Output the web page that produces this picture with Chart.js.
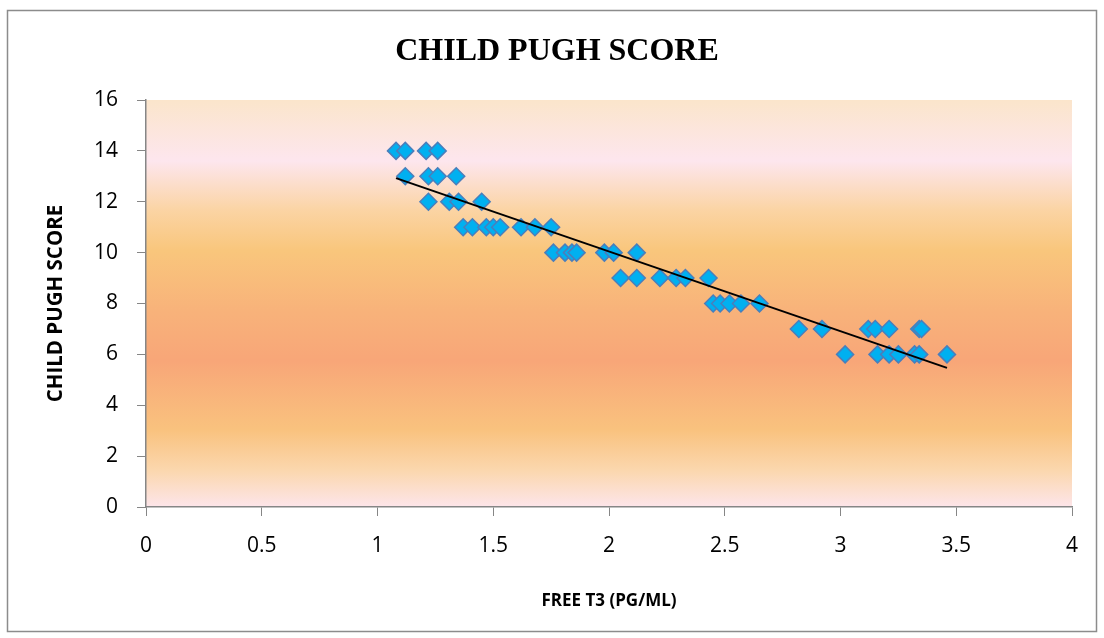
<!DOCTYPE html>
<html>
<head>
<meta charset="utf-8">
<title>Child Pugh score vs free T3</title>
<script src="https://cdn.jsdelivr.net/npm/chart.js@4/dist/chart.umd.min.js"></script>
<style>
  html, body { margin: 0; padding: 0; background: #fff; }
  #wrap { width: 1104px; height: 638px; }
</style>
</head>
<body>
<div id="wrap"><canvas id="myChart" width="1104" height="638"></canvas></div>
<script>
// free T3 readings (pg/ml) and the matching Child Pugh score, one pair per patient
const freeT3 = [
  1.08, 1.12, 1.21, 1.26,
  1.12, 1.22, 1.26, 1.34,
  1.22, 1.31, 1.35, 1.45,
  1.37, 1.41, 1.47, 1.50, 1.53, 1.62, 1.68, 1.75,
  1.76, 1.81, 1.84, 1.86, 1.98, 2.02, 2.12,
  2.05, 2.12, 2.22, 2.29, 2.33, 2.43,
  2.45, 2.48, 2.52, 2.57, 2.65,
  2.82, 2.92, 3.12, 3.15, 3.21, 3.34, 3.35,
  3.02, 3.16, 3.21, 3.25, 3.32, 3.34, 3.46
];
const childPugh = [
  14, 14, 14, 14,
  13, 13, 13, 13,
  12, 12, 12, 12,
  11, 11, 11, 11, 11, 11, 11, 11,
  10, 10, 10, 10, 10, 10, 10,
  9, 9, 9, 9, 9, 9,
  8, 8, 8, 8, 8,
  7, 7, 7, 7, 7, 7, 7,
  6, 6, 6, 6, 6, 6, 6
];

const xTicks = [0, 0.5, 1, 1.5, 2, 2.5, 3, 3.5, 4];
const yTicks = [0, 2, 4, 6, 8, 10, 12, 14, 16];

const chartTitle = "CHILD PUGH SCORE";

// least squares fit for the linear trendline
function linearFit(xs, ys) {
  let n = xs.length, sx = 0, sy = 0, sxy = 0, sxx = 0;
  for (let i = 0; i < n; i++) {
    sx += xs[i]; sy += ys[i];
    sxy += xs[i] * ys[i]; sxx += xs[i] * xs[i];
  }
  const slope = (n * sxy - sx * sy) / (n * sxx - sx * sx);
  const intercept = (sy - slope * sx) / n;
  return { slope, intercept };
}

const fit = linearFit(freeT3, childPugh);
const xMin = Math.min(...freeT3);
const xMax = Math.max(...freeT3);
const trend = [
  { x: xMin, y: fit.intercept + fit.slope * xMin },
  { x: xMax, y: fit.intercept + fit.slope * xMax }
];

const points = freeT3.map((x, i) => ({ x: x, y: childPugh[i] }));

// white page, thin grey frame, banded plot background and the heading
const backdrop = {
  id: "backdrop",
  beforeDraw(chart) {
    const c = chart.ctx;
    const a = chart.chartArea;
    c.save();
    c.fillStyle = "#ffffff";
    c.fillRect(0, 0, chart.width, chart.height);
    c.strokeStyle = "#8c8c8c";
    c.lineWidth = 1.5;
    c.strokeRect(7.5, 10.5, 1089, 621);

    const g = c.createLinearGradient(0, a.top, 0, a.bottom);
    g.addColorStop(0.00, "#fbe5cb");
    g.addColorStop(0.15, "#fde6ee");
    g.addColorStop(0.27, "#fbd4a4");
    g.addColorStop(0.37, "#f9c67c");
    g.addColorStop(0.52, "#f8b27a");
    g.addColorStop(0.64, "#f8a678");
    g.addColorStop(0.81, "#f9c27e");
    g.addColorStop(0.91, "#fbd7ae");
    g.addColorStop(1.00, "#fde5ea");
    c.fillStyle = g;
    c.fillRect(a.left, a.top, a.right - a.left, a.bottom - a.top);

    c.fillStyle = "#000000";
    c.font = "bold 32px 'Liberation Serif', 'Times New Roman', serif";
    c.textAlign = "center";
    c.textBaseline = "alphabetic";
    c.fillText(chartTitle, 557, 60);
    c.restore();
  }
};

const axisGrey = "#868686";
const tickFont = { family: "'Open Sans', sans-serif", size: 21 };

let ctx = document.getElementById("myChart").getContext("2d");
let chart = new Chart(ctx, {
  type: "scatter",
  data: {
    datasets: [
      {
        type: "line",
        label: "Linear trend",
        data: trend,
        borderColor: "#000000",
        borderWidth: 2,
        pointRadius: 0,
        fill: false,
        order: 0
      },
      {
        label: "CHILD PUGH SCORE",
        data: points,
        pointStyle: "rectRot",
        pointRadius: 8.5,
        pointHoverRadius: 8.5,
        backgroundColor: "#00b0f0",
        borderColor: "#4a7ebb",
        borderWidth: 1.5,
        order: 1
      }
    ]
  },
  options: {
    responsive: false,
    animation: false,
    devicePixelRatio: 1,
    layout: { padding: { left: 10, right: 32, top: 100, bottom: 10 } },
    plugins: {
      legend: { display: false },
      tooltip: { enabled: false },
      title: { display: false }
    },
    scales: {
      x: {
        type: "linear",
        min: 0,
        max: 4,
        afterBuildTicks: (s) => { s.ticks = xTicks.map(v => ({ value: v })); },
        afterFit: (s) => { s.height = 121; },
        grid: { drawOnChartArea: false, color: axisGrey, tickLength: 9 },
        border: { color: axisGrey, width: 1.5 },
        ticks: { color: "#000000", font: tickFont, padding: 17, callback: (v) => String(v) },
        title: {
          display: true,
          text: "FREE T3 (PG/ML)",
          color: "#000000",
          font: { family: "'Open Sans', sans-serif", size: 17, weight: "bold" },
          padding: { top: 0, bottom: 17 }
        }
      },
      y: {
        type: "linear",
        min: 0,
        max: 16,
        afterBuildTicks: (s) => { s.ticks = yTicks.map(v => ({ value: v })); },
        afterFit: (s) => { s.width = 136; },
        grid: { drawOnChartArea: false, color: axisGrey, tickLength: 9 },
        border: { color: axisGrey, width: 1.5 },
        ticks: { color: "#000000", font: tickFont, padding: 19, callback: (v) => String(v) },
        title: {
          display: true,
          text: "CHILD PUGH SCORE",
          color: "#000000",
          font: { family: "'Open Sans', sans-serif", size: 20.5, weight: "bold" },
          padding: { top: 34, bottom: 0 }
        }
      }
    }
  },
  plugins: [backdrop]
});
</script>
</body>
</html>
